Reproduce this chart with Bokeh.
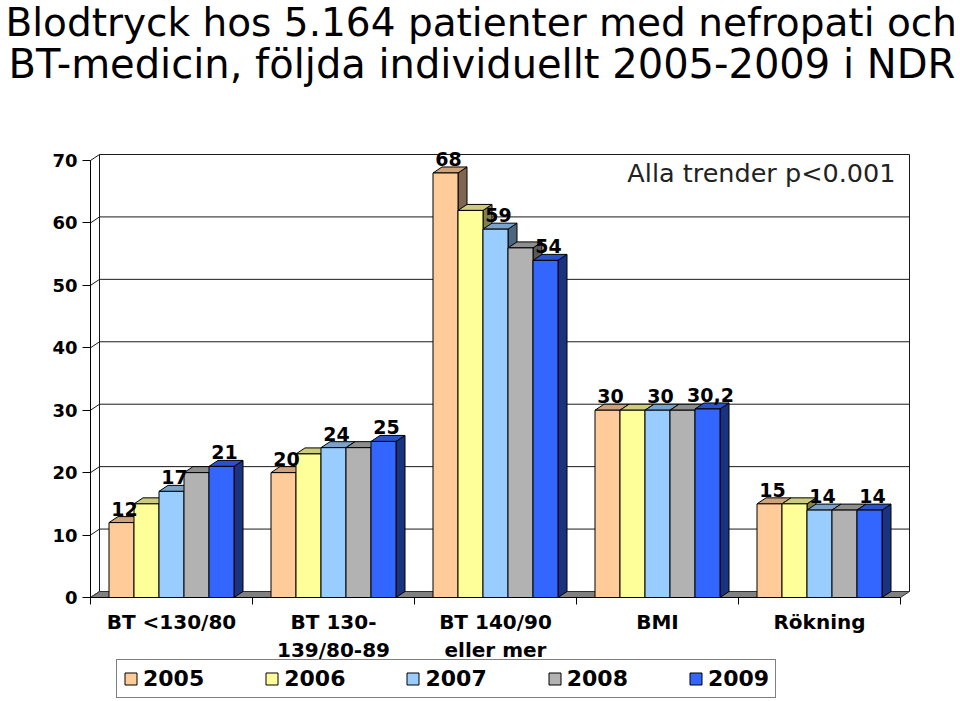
from bokeh.plotting import figure
from bokeh.models import (Range1d, FixedTicker, Label, Legend, LegendItem,
                          ColumnDataSource)
from bokeh.embed import file_html
from bokeh.resources import INLINE
from bokeh.core.properties import value

# ---------------- data ----------------
categories = ["BT <130/80", "BT 130-\n139/80-89", "BT 140/90\neller mer", "BMI", "Rökning"]
years = ["2005", "2006", "2007", "2008", "2009"]
v2005 = [12, 20, 68, 30, 15]
v2006 = [15, 23, 62, 30, 15]
v2007 = [17, 24, 59, 30, 14]
v2008 = [20, 24, 56, 30, 14]
v2009 = [21, 25, 54, 30.2, 14]
labels_2005 = ["12", "20", "68", "30", "15"]
labels_2007 = ["17", "24", "59", "30", "14"]
labels_2009 = ["21", "25", "54", "30,2", "14"]
y_ticks = [0, 10, 20, 30, 40, 50, 60, 70]
title_lines = ["Blodtryck hos 5.164 patienter med nefropati och",
               "BT-medicin, följda individuellt 2005-2009 i NDR"]
note = "Alla trender p<0.001"

series = [v2005, v2006, v2007, v2008, v2009]
labelled = {0: labels_2005, 2: labels_2007, 4: labels_2009}

# ---------------- layout / style ----------------
W, H = 960, 701
PX = 162.0          # pixels per category group
PY = 6.243          # pixels per value unit
ORIGIN_X, ORIGIN_Y = 90, 597   # pixel position of (0, 0)


def sx(px):   # canvas pixel -> x data
    return (px - ORIGIN_X) / PX


def sy(py):   # canvas pixel -> y data
    return (ORIGIN_Y - py) / PY


FRONT = ["#FFCC99", "#FFFF99", "#99CCFF", "#B2B2B2", "#3366FF"]
TOP = ["#CCA37A", "#CCCC7A", "#7AA3CC", "#8E8E8E", "#2952CC"]
SIDE = ["#806650", "#80804D", "#4D6680", "#595959", "#1A3380"]
DX = 9 / PX      # depth offset, x
DY = 6 / PY      # depth offset, y
BAR_W = 25 / PX
PAD = (1 - 5 * BAR_W) / 2
NG = len(categories)
YMAX = y_ticks[-1]

p = figure(width=W, height=H, output_backend="svg", toolbar_location=None,
           x_range=Range1d(sx(0), sx(W)), y_range=Range1d(sy(H), sy(0)),
           min_border=0, title_location=None)
p.outline_line_color = None
p.xgrid.visible = False
p.ygrid.visible = False
p.background_fill_color = "white"
p.border_fill_color = "white"

# ---- back wall grid lines (with left-wall connectors) ----
gx, gy = [], []
for t in y_ticks:
    gx.append([0, DX, NG + DX])
    gy.append([t, t + DY, t + DY])
gx.append([DX, DX]); gy.append([DY, YMAX + DY])
gx.append([NG + DX, NG + DX]); gy.append([DY, YMAX + DY])
p.multi_line(gx, gy, line_color="#1a1a1a", line_width=1)

# ---- floor ----
p.patch([0, NG, NG + DX, DX], [0, 0, DY, DY], fill_color="#808080",
        line_color="#333333", line_width=1)

# ---- 3D bars ----
xs, ys, fills = [], [], []
front_index = {}
for g in range(NG):
    for s in range(len(series)):
        v = series[s][g]
        x0 = g + PAD + s * BAR_W
        x1 = x0 + BAR_W
        xs.append([x1, x1 + DX, x1 + DX, x1]); ys.append([0, DY, v + DY, v]); fills.append(SIDE[s])
        xs.append([x0, x1, x1 + DX, x0 + DX]); ys.append([v, v, v + DY, v + DY]); fills.append(TOP[s])
        front_index[(g, s)] = len(xs)
        xs.append([x0, x1, x1, x0]); ys.append([0, 0, v, v]); fills.append(FRONT[s])
src = ColumnDataSource(dict(xs=xs, ys=ys, fill=fills))
bars = p.patches("xs", "ys", source=src, fill_color="fill", line_color="black",
                 line_width=1, line_join="miter")

# ---- data labels ----
lx, ly, lt = [], [], []
for s, labs in labelled.items():
    for g in range(NG):
        x0 = g + PAD + s * BAR_W
        lx.append(x0 + BAR_W / 2 + DX / 3)
        ly.append(series[s][g] + DY)
        lt.append(labs[g])
p.text(lx, ly, text=lt, text_font=value("DejaVu Sans"), text_font_style="bold",
       text_font_size="19px", text_align="center", text_baseline="alphabetic",
       text_color="black", y_offset=-8)

# ---- axes (fixed at the origin) ----
yax = p.yaxis[0]
yax.fixed_location = 0
yax.ticker = FixedTicker(ticks=y_ticks)
yax.bounds = (0, YMAX)
yax.major_tick_out = 8
yax.major_tick_in = 0
yax.minor_tick_line_color = None
yax.major_label_text_font = "DejaVu Sans"
yax.major_label_text_font_style = "bold"
yax.major_label_text_font_size = "18px"
yax.major_label_text_color = "black"
yax.major_label_standoff = 5
yax.axis_line_color = "black"

xax = p.xaxis[0]
xax.fixed_location = 0
xax.ticker = FixedTicker(ticks=[g + 0.5 for g in range(NG)],
                         minor_ticks=list(range(NG + 1)))
xax.major_label_overrides = {g + 0.5: c for g, c in enumerate(categories)}
xax.bounds = (0, NG)
xax.major_tick_out = 7
xax.major_tick_in = 0
xax.major_tick_line_color = None
xax.minor_tick_out = 7
xax.minor_tick_in = 0
xax.minor_tick_line_color = "black"
xax.major_label_standoff = 5
xax.major_label_text_font = "DejaVu Sans"
xax.major_label_text_font_style = "bold"
xax.major_label_text_font_size = "20px"
xax.major_label_text_color = "black"
xax.axis_line_color = "black"

# ---- note ----
p.add_layout(Label(x=sx(895), y=sy(172), text=note, text_align="right",
                   text_baseline="alphabetic",
                   text_font="DejaVu Sans", text_font_size="25.5px", text_color="#222222"))

# ---- title (two lines) ----
p.add_layout(Label(x=sx(5), y=sy(22), text=title_lines[0], text_align="left",
                   text_baseline="alphabetic", text_font="DejaVu Sans",
                   text_font_size="39px", text_color="black"))
p.add_layout(Label(x=sx(8), y=sy(63), text=title_lines[1], text_align="left",
                   text_baseline="alphabetic", text_font="DejaVu Sans",
                   text_font_size="40px", text_color="black"))

# ---- legend ----
items = [LegendItem(label=years[s], renderers=[bars], index=front_index[(0, s)])
         for s in range(len(years))]
legend = Legend(items=items, orientation="horizontal", location=(116, 3),
                glyph_width=15, glyph_height=15, label_standoff=5, spacing=60,
                padding=6, margin=0, border_line_color="black", border_line_width=1,
                label_text_font="DejaVu Sans", label_text_font_style="bold",
                label_text_font_size="22px", label_text_color="black",
                background_fill_alpha=1)
p.add_layout(legend)

open("out.html", "w").write(file_html(p, INLINE))
